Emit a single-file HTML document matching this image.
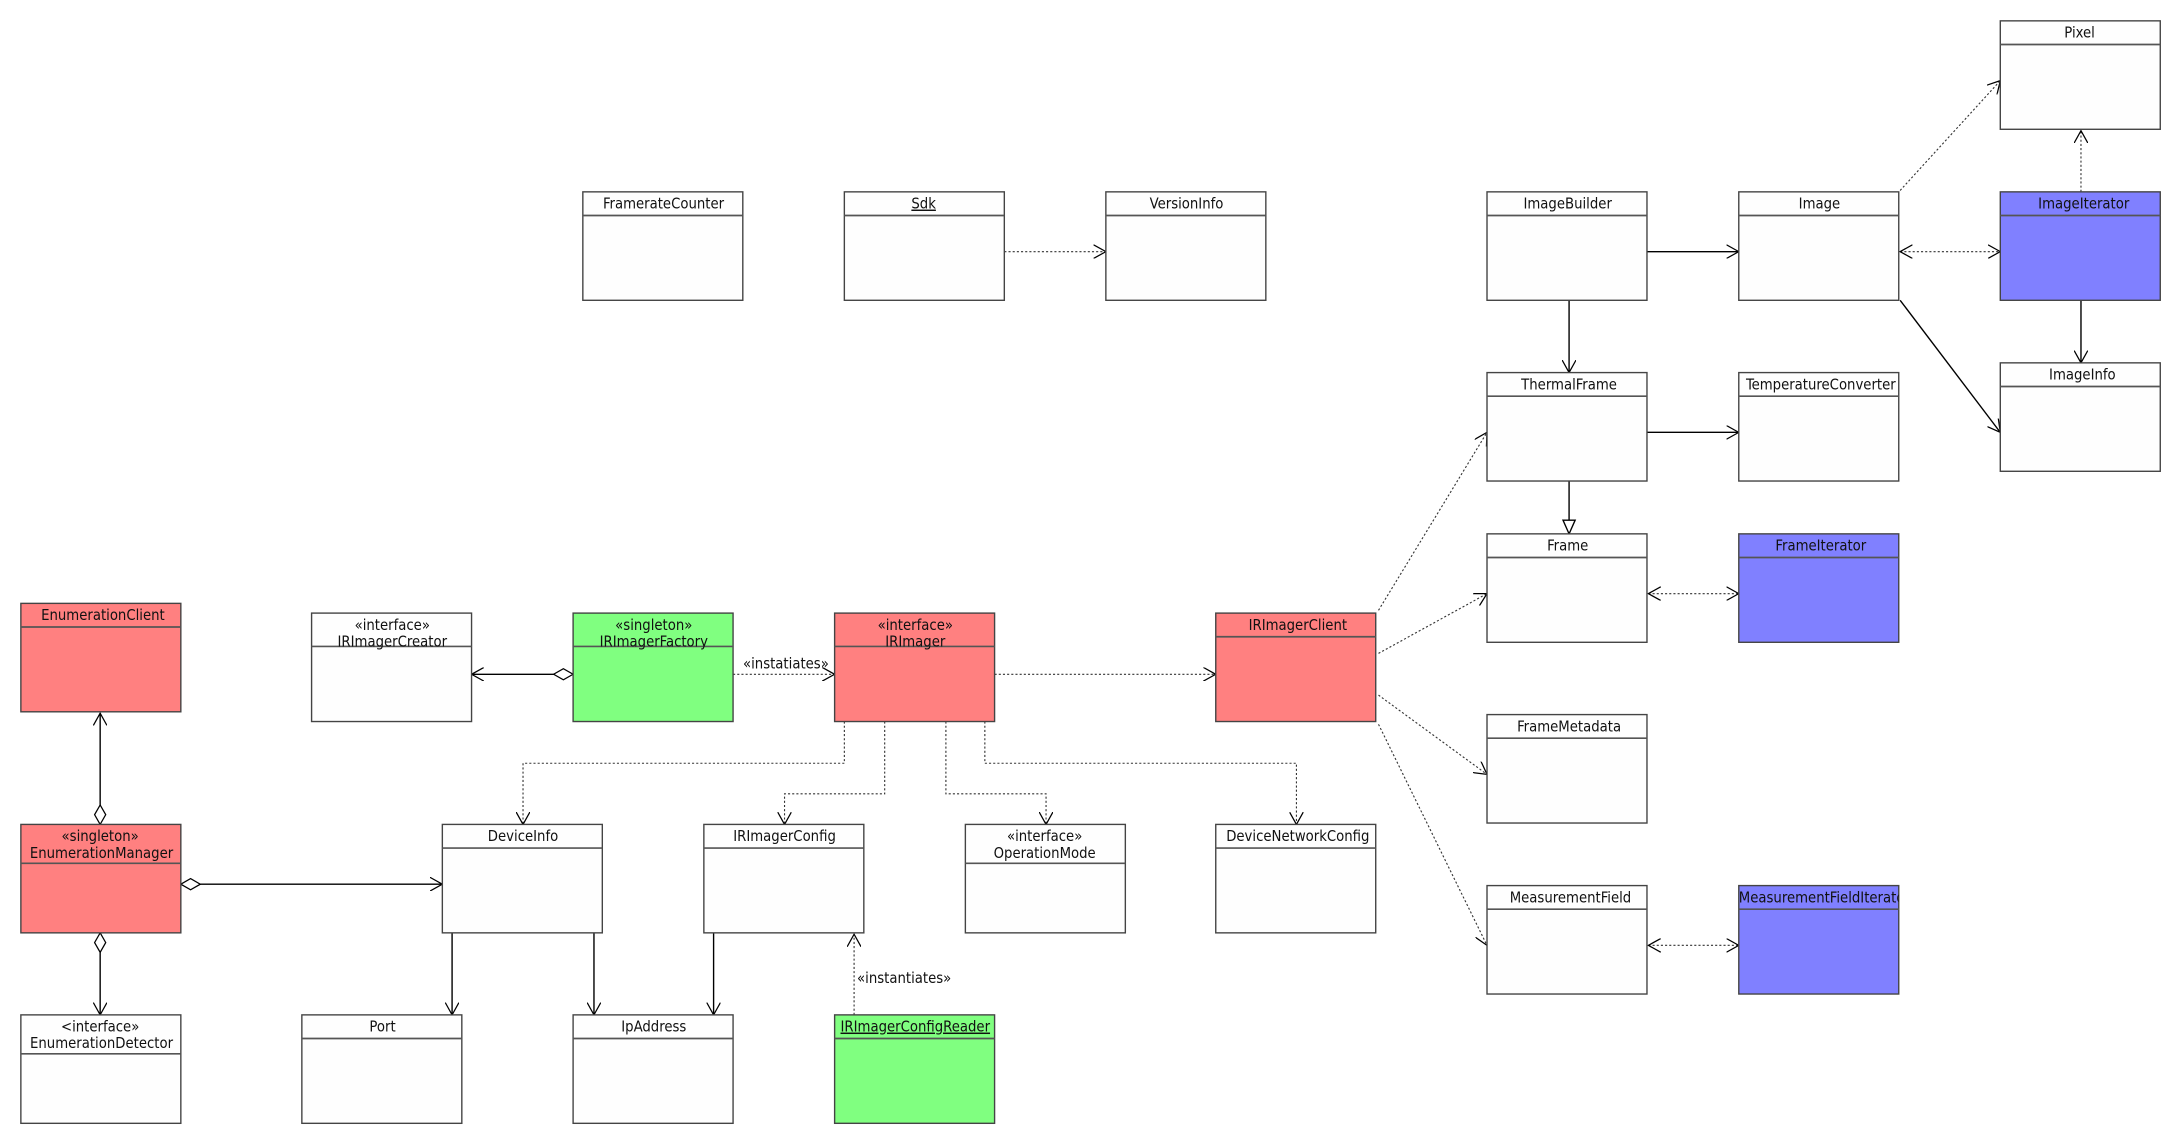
<!DOCTYPE html>
<html><head><meta charset="utf-8"><style>
html,body{margin:0;padding:0;background:#fff;}
svg{display:block;}
text{font-family:"DejaVu Sans Condensed","Liberation Sans",sans-serif;font-size:10.6px;fill:#111;text-anchor:middle;}
.b{stroke:#444;stroke-width:1;}
.h{stroke:#555;stroke-width:1.2;}
.s{stroke:#000;stroke-width:1;fill:none;}
.d{stroke:#333;stroke-width:0.8;fill:none;stroke-dasharray:1.5 1.5;}
</style></head><body>
<svg width="2170" height="1140" viewBox="0 0 1560 820" preserveAspectRatio="none" xmlns="http://www.w3.org/2000/svg">
<defs>
<marker id="a" markerUnits="userSpaceOnUse" markerWidth="10" markerHeight="10" refX="9" refY="5" orient="auto" viewBox="0 0 10 10"><path d="M0,0 L9,5 L0,10" fill="none" stroke="#000" stroke-width="0.9"/></marker>
<marker id="as" markerUnits="userSpaceOnUse" markerWidth="10" markerHeight="10" refX="1" refY="5" orient="auto" viewBox="0 0 10 10"><path d="M10,0 L1,5 L10,10" fill="none" stroke="#000" stroke-width="0.9"/></marker>
<marker id="dm" markerUnits="userSpaceOnUse" markerWidth="18" markerHeight="10" refX="1" refY="5" orient="auto" viewBox="0 0 18 10"><path d="M1,5 L8,1 L15,5 L8,9 Z" fill="#fff" stroke="#000" stroke-width="0.9"/></marker>
<marker id="tri" markerUnits="userSpaceOnUse" markerWidth="12" markerHeight="12" refX="10" refY="5" orient="auto" viewBox="0 0 11 10"><path d="M1,1 L10,5 L1,9 Z" fill="#fff" stroke="#000" stroke-width="0.9"/></marker>
</defs>

<line class="d" x1="722" y1="181" x2="795" y2="181" marker-end="url(#a)"/>
<line class="s" x1="1184" y1="181" x2="1250" y2="181" marker-end="url(#a)"/>
<line class="d" x1="1366" y1="181" x2="1438" y2="181" marker-start="url(#as)" marker-end="url(#a)"/>
<line class="d" x1="1366" y1="137" x2="1438" y2="58" marker-end="url(#a)"/>
<line class="d" x1="1496" y1="138" x2="1496" y2="94" marker-end="url(#a)"/>
<line class="s" x1="1496" y1="216" x2="1496" y2="261" marker-end="url(#a)"/>
<line class="s" x1="1366" y1="216" x2="1438" y2="311" marker-end="url(#a)"/>
<line class="s" x1="1128" y1="216" x2="1128" y2="268" marker-end="url(#a)"/>
<line class="s" x1="1184" y1="311" x2="1250" y2="311" marker-end="url(#a)"/>
<line class="s" x1="1128" y1="346" x2="1128" y2="384" marker-end="url(#tri)"/>
<line class="d" x1="1185" y1="427" x2="1250" y2="427" marker-start="url(#as)" marker-end="url(#a)"/>
<line class="d" x1="1185" y1="680" x2="1250" y2="680" marker-start="url(#as)" marker-end="url(#a)"/>
<line class="d" x1="991" y1="439" x2="1069" y2="311" marker-end="url(#a)"/>
<line class="d" x1="991" y1="470" x2="1069" y2="427" marker-end="url(#a)"/>
<line class="d" x1="991" y1="500" x2="1069" y2="557" marker-end="url(#a)"/>
<line class="d" x1="991" y1="521" x2="1069" y2="680" marker-end="url(#a)"/>
<line class="d" x1="715" y1="485" x2="874" y2="485" marker-end="url(#a)"/>
<line class="d" x1="527" y1="485" x2="600" y2="485" marker-end="url(#a)"/>
<text x="565" y="481">«instatiates»</text>
<line class="s" x1="412" y1="485" x2="339" y2="485" marker-start="url(#dm)" marker-end="url(#a)"/>
<polyline class="d" points="607,519 607,549 376,549 376,593" marker-end="url(#a)"/>
<polyline class="d" points="636,519 636,571 564,571 564,593" marker-end="url(#a)"/>
<polyline class="d" points="680,519 680,571 752,571 752,593" marker-end="url(#a)"/>
<polyline class="d" points="708,519 708,549 932,549 932,593" marker-end="url(#a)"/>
<line class="s" x1="72" y1="593" x2="72" y2="513" marker-start="url(#dm)" marker-end="url(#a)"/>
<line class="s" x1="72" y1="671" x2="72" y2="730" marker-start="url(#dm)" marker-end="url(#a)"/>
<line class="s" x1="130" y1="636" x2="318" y2="636" marker-start="url(#dm)" marker-end="url(#a)"/>
<line class="s" x1="325" y1="671" x2="325" y2="730" marker-end="url(#a)"/>
<line class="s" x1="427" y1="671" x2="427" y2="730" marker-end="url(#a)"/>
<line class="s" x1="513" y1="671" x2="513" y2="730" marker-end="url(#a)"/>
<line class="d" x1="614" y1="730" x2="614" y2="672" marker-end="url(#a)"/>
<text x="650" y="707">«instantiates»</text>

<rect class="b" x="419" y="138" width="115" height="78" fill="#fefefe"/><line class="h" x1="419" y1="155" x2="534" y2="155"/><text x="477" y="150">FramerateCounter</text>
<rect class="b" x="607" y="138" width="115" height="78" fill="#fefefe"/><line class="h" x1="607" y1="155" x2="722" y2="155"/><text x="664" y="150" text-decoration="underline">Sdk</text>
<rect class="b" x="795" y="138" width="115" height="78" fill="#fefefe"/><line class="h" x1="795" y1="155" x2="910" y2="155"/><text x="853" y="150">VersionInfo</text>
<rect class="b" x="1069" y="138" width="115" height="78" fill="#fefefe"/><line class="h" x1="1069" y1="155" x2="1184" y2="155"/><text x="1127" y="150">ImageBuilder</text>
<rect class="b" x="1250" y="138" width="115" height="78" fill="#fefefe"/><line class="h" x1="1250" y1="155" x2="1365" y2="155"/><text x="1308" y="150">Image</text>
<rect class="b" x="1438" y="138" width="115" height="78" fill="#8080ff"/><line class="h" x1="1438" y1="155" x2="1553" y2="155"/><text x="1498" y="150">ImageIterator</text>
<rect class="b" x="1438" y="15" width="115" height="78" fill="#fefefe"/><line class="h" x1="1438" y1="32" x2="1553" y2="32"/><text x="1495" y="27">Pixel</text>
<rect class="b" x="1069" y="268" width="115" height="78" fill="#fefefe"/><line class="h" x1="1069" y1="285" x2="1184" y2="285"/><text x="1128" y="280">ThermalFrame</text>
<rect class="b" x="1250" y="268" width="115" height="78" fill="#fefefe"/><line class="h" x1="1250" y1="285" x2="1365" y2="285"/><text x="1309" y="280">TemperatureConverter</text>
<rect class="b" x="1438" y="261" width="115" height="78" fill="#fefefe"/><line class="h" x1="1438" y1="278" x2="1553" y2="278"/><text x="1497" y="273">ImageInfo</text>
<rect class="b" x="1069" y="384" width="115" height="78" fill="#fefefe"/><line class="h" x1="1069" y1="401" x2="1184" y2="401"/><text x="1127" y="396">Frame</text>
<rect class="b" x="1250" y="384" width="115" height="78" fill="#8080ff"/><line class="h" x1="1250" y1="401" x2="1365" y2="401"/><text x="1309" y="396">FrameIterator</text>
<rect class="b" x="1069" y="514" width="115" height="78" fill="#fefefe"/><line class="h" x1="1069" y1="531" x2="1184" y2="531"/><text x="1128" y="526">FrameMetadata</text>
<rect class="b" x="1069" y="637" width="115" height="78" fill="#fefefe"/><line class="h" x1="1069" y1="654" x2="1184" y2="654"/><text x="1129" y="649">MeasurementField</text>
<rect class="b" x="1250" y="637" width="115" height="78" fill="#8080ff"/><line class="h" x1="1250" y1="654" x2="1365" y2="654"/>
<svg x="1250" y="637" width="115" height="16" overflow="hidden"><text x="0" y="12" style="text-anchor:start">MeasurementFieldIterator</text></svg>
<rect class="b" x="874" y="441" width="115" height="78" fill="#ff8080"/><line class="h" x1="874" y1="458" x2="989" y2="458"/><text x="933" y="453">IRImagerClient</text>
<rect class="b" x="600" y="441" width="115" height="78" fill="#ff8080"/><line class="h" x1="600" y1="465" x2="715" y2="465"/><text x="658" y="453">«interface»</text><text x="658" y="465">IRImager</text>
<rect class="b" x="412" y="441" width="115" height="78" fill="#80ff80"/><line class="h" x1="412" y1="465" x2="527" y2="465"/><text x="470" y="453">«singleton»</text><text x="470" y="465">IRImagerFactory</text>
<rect class="b" x="224" y="441" width="115" height="78" fill="#fefefe"/><line class="h" x1="224" y1="465" x2="339" y2="465"/><text x="282" y="453">«interface»</text><text x="282" y="465">IRImagerCreator</text>
<rect class="b" x="15" y="434" width="115" height="78" fill="#ff8080"/><line class="h" x1="15" y1="451" x2="130" y2="451"/><text x="74" y="446">EnumerationClient</text>
<rect class="b" x="15" y="593" width="115" height="78" fill="#ff8080"/><line class="h" x1="15" y1="621" x2="130" y2="621"/><text x="72" y="605">«singleton»</text><text x="73" y="617">EnumerationManager</text>
<rect class="b" x="15" y="730" width="115" height="78" fill="#fefefe"/><line class="h" x1="15" y1="758" x2="130" y2="758"/><text x="72" y="742">&lt;interface»</text><text x="73" y="754">EnumerationDetector</text>
<rect class="b" x="318" y="593" width="115" height="78" fill="#fefefe"/><line class="h" x1="318" y1="610" x2="433" y2="610"/><text x="376" y="605">DeviceInfo</text>
<rect class="b" x="506" y="593" width="115" height="78" fill="#fefefe"/><line class="h" x1="506" y1="610" x2="621" y2="610"/><text x="564" y="605">IRImagerConfig</text>
<rect class="b" x="694" y="593" width="115" height="78" fill="#fefefe"/><line class="h" x1="694" y1="621" x2="809" y2="621"/><text x="751" y="605">«interface»</text><text x="751" y="617">OperationMode</text>
<rect class="b" x="874" y="593" width="115" height="78" fill="#fefefe"/><line class="h" x1="874" y1="610" x2="989" y2="610"/><text x="933" y="605">DeviceNetworkConfig</text>
<rect class="b" x="217" y="730" width="115" height="78" fill="#fefefe"/><line class="h" x1="217" y1="747" x2="332" y2="747"/><text x="275" y="742">Port</text>
<rect class="b" x="412" y="730" width="115" height="78" fill="#fefefe"/><line class="h" x1="412" y1="747" x2="527" y2="747"/><text x="470" y="742">IpAddress</text>
<rect class="b" x="600" y="730" width="115" height="78" fill="#80ff80"/><line class="h" x1="600" y1="747" x2="715" y2="747"/><text x="658" y="742" text-decoration="underline">IRImagerConfigReader</text>
</svg>
</body></html>
